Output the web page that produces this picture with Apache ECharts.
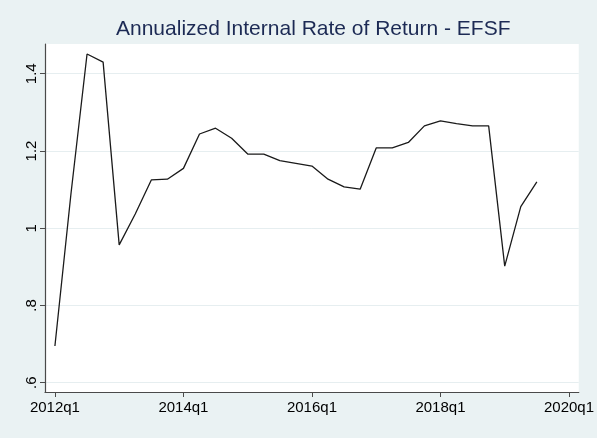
<!DOCTYPE html>
<html>
<head>
<meta charset="utf-8">
<script src="https://cdn.jsdelivr.net/npm/echarts@6/dist/echarts.min.js"></script>
<style>html,body{margin:0;padding:0;background:#EAF2F3;}#c{width:597px;height:438px;}</style>
</head>
<body>
<div id="c"></div>
<script>
const quarters = ['2012q1','2012q2','2012q3','2012q4','2013q1','2013q2','2013q3','2013q4',
  '2014q1','2014q2','2014q3','2014q4','2015q1','2015q2','2015q3','2015q4',
  '2016q1','2016q2','2016q3','2016q4','2017q1','2017q2','2017q3','2017q4',
  '2018q1','2018q2','2018q3','2018q4','2019q1','2019q2','2019q3'];
const irr = [0.695,1.090,1.451,1.430,0.957,1.037,1.125,1.127,
  1.155,1.244,1.259,1.233,1.192,1.192,1.175,1.168,
  1.161,1.127,1.107,1.101,1.208,1.208,1.222,1.265,
  1.278,1.271,1.265,1.265,0.902,1.056,1.120];
const xTickPos = [0,8,16,24,32];
const xTickLabels = ['2012q1','2014q1','2016q1','2018q1','2020q1'];
const yTickVals = [0.6,0.8,1,1.2,1.4];
const yTickLabels = ['.6','.8','1','1.2','1.4'];

const seriesData = quarters.map((q,i)=>[i, irr[i]]);
const chart = echarts.init(document.getElementById('c'), null, {renderer:'canvas'});
const axisCol = '#4a4a4a';
chart.setOption({
  backgroundColor:'#EAF2F3',
  animation:false,
  title:{
    text:'Annualized Internal Rate of Return - EFSF',
    left:116, top:19, padding:0,
    textStyle:{fontFamily:'Liberation Sans', fontSize:21, fontWeight:'normal', color:'#1C2A54'}
  },
  grid:{left:45, right:14.3, top:44, bottom:46, show:true, backgroundColor:'#ffffff', borderWidth:0, containLabel:false},
  xAxis:{
    type:'value', min:-0.618, max:32.61,
    axisLine:{show:true, onZero:false, lineStyle:{color:axisCol, width:1.2}},
    axisTick:{show:true, length:5, customValues:xTickPos, lineStyle:{color:axisCol, width:1}},
    axisLabel:{customValues:xTickPos, margin:8, fontFamily:'Liberation Sans', fontSize:15, color:'#000',
      formatter:(v)=>{const k=xTickPos.findIndex(t=>Math.abs(t-v)<1e-6); return k>=0?xTickLabels[k]:'';}},
    splitLine:{show:false}
  },
  yAxis:{
    type:'value', min:0.576, max:1.477,
    axisLine:{show:true, onZero:false, lineStyle:{color:axisCol, width:1.2}},
    axisTick:{show:true, length:5, customValues:yTickVals, lineStyle:{color:axisCol, width:1}},
    axisLabel:{customValues:yTickVals, rotate:90, margin:6, fontFamily:'Liberation Sans', fontSize:15, color:'#000',
      formatter:(v)=>{const k=yTickVals.findIndex(t=>Math.abs(t-v)<1e-6); return k>=0?yTickLabels[k]:'';}},
    splitLine:{show:true, lineStyle:{color:'#E6EEF0', width:1}}
  },
  series:[{
    type:'line', data:seriesData, showSymbol:false, symbol:'none',
    lineStyle:{color:'#1a1a1a', width:1.3}
  }]
});
</script>
</body>
</html>
